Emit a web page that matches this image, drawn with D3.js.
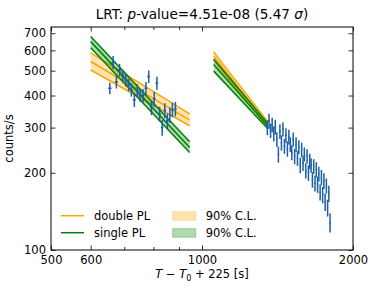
<!DOCTYPE html>
<html>
<head>
<meta charset="utf-8">
<script src="https://cdn.jsdelivr.net/npm/d3@7"></script>
<style>
  body { margin: 0; background: #fff; }
  text { font-family: "DejaVu Sans", sans-serif; fill: #000; }
</style>
</head>
<body>
<div class="chart"></div>
<script>
// Light curve bins (time since T0 + 225 s), count rates and 1-sigma errors
var times1 = [655, 665, 675, 685, 695, 705, 714, 723, 733, 743, 753, 763,
  773, 783, 793, 803, 813, 823, 833, 843, 853, 863, 873, 885];
var rates1 = [427, 538, 452, 504, 477, 460, 440, 421, 385, 418, 402, 400,
  427, 474, 360, 388, 447, 339, 300, 350, 318, 336, 352, 355];
var errs1 = [22, 32, 26, 28, 27, 26, 25, 25, 24, 25, 24, 24,
  25, 27, 24, 25, 26, 23, 21, 23, 22, 23, 23, 23];

var times2 = [1350, 1360, 1370, 1380, 1390, 1400, 1410, 1420, 1430, 1440, 1450, 1460,
  1470, 1480, 1490, 1500, 1510, 1520, 1530, 1540, 1550, 1560, 1570, 1580,
  1590, 1600, 1610, 1620, 1630, 1640, 1650, 1660, 1670, 1680, 1690, 1700,
  1710, 1720, 1730, 1740, 1750, 1760, 1770, 1780, 1790, 1800];
var rates2 = [300, 318, 292, 308, 284, 302, 270, 236, 290, 262, 296, 254,
  280, 248, 276, 258, 240, 270, 232, 258, 228, 252, 214, 246,
  218, 236, 204, 232, 200, 222, 214, 188, 212, 182, 206, 180,
  198, 168, 192, 164, 186, 154, 178, 146, 166, 128];
var errs2 = [20, 22, 19, 20, 19, 20, 18, 17, 19, 18, 19, 17,
  18, 17, 18, 17, 16, 17, 16, 17, 15, 16, 15, 16,
  15, 15, 14, 15, 14, 15, 14, 13, 14, 13, 14, 13,
  13, 12, 13, 12, 13, 12, 12, 11, 12, 11];

// Model segments: [start, end] time and rate at those times
var segTimes = [[600, 945], [1055, 1350]];
var doubleMid = [[543, 321], [570, 310]];
var doubleHi = [[587, 339], [592, 318]];
var doubleLo = [[503, 305], [550, 302]];
var singleMid = [[649, 251], [528, 306]];
var singleHi = [[679, 264], [555, 313]];
var singleLo = [[614, 240], [498, 298]];

var xMajor = [500, 600, 1000, 2000];
var xMinor = [700, 800, 900];
var yTicks = [100, 200, 300, 400, 500, 600, 700];

// Set up chart
var svgWidth = 374;
var svgHeight = 293;
var margin = { top: 27, right: 21, bottom: 43, left: 51 };
var width = svgWidth - margin.left - margin.right;
var height = svgHeight - margin.top - margin.bottom;

var svg = d3.select(".chart")
  .append("svg")
  .attr("width", svgWidth)
  .attr("height", svgHeight);

var chartGroup = svg.append("g")
  .attr("transform", `translate(${margin.left}, ${margin.top})`);

var x = d3.scaleLog().domain([500, 2000]).range([0, width]);
var y = d3.scaleLog().domain([100, 740]).range([height, 0]);

var orange = "#ffa500";
var green = "#008000";
var blue = "#1c5fa8";

// Model bands and lines (double PL first, single PL on top)
function drawModel(mid, hi, lo, color) {
  segTimes.forEach((ts, i) => {
    var band = [0, 1].map(k => ({ t: ts[k], hi: hi[i][k], lo: lo[i][k] }));
    chartGroup.append("path")
      .datum(band)
      .attr("d", d3.area().x(d => x(d.t)).y0(d => y(d.lo)).y1(d => y(d.hi)))
      .attr("fill", color)
      .attr("fill-opacity", 0.3);
    [hi, mid, lo].forEach(arr => {
      chartGroup.append("path")
        .datum([0, 1].map(k => ({ t: ts[k], v: arr[i][k] })))
        .attr("d", d3.line().x(d => x(d.t)).y(d => y(d.v)))
        .attr("fill", "none")
        .attr("stroke", color)
        .attr("stroke-width", 1.5);
    });
  });
}
drawModel(doubleMid, doubleHi, doubleLo, orange);
drawModel(singleMid, singleHi, singleLo, green);

// Data points with error bars
function drawPoints(ts, rs, es) {
  var g = chartGroup.append("g")
    .attr("stroke", blue)
    .attr("stroke-width", 1.5);
  ts.forEach((t, i) => {
    g.append("line")
      .attr("x1", x(t)).attr("x2", x(t))
      .attr("y1", y(rs[i] - es[i])).attr("y2", y(rs[i] + es[i]));
    g.append("line")
      .attr("x1", x(t - 5)).attr("x2", x(t + 5))
      .attr("y1", y(rs[i])).attr("y2", y(rs[i]));
  });
}
drawPoints(times1, rates1, errs1);
drawPoints(times2, rates2, errs2);

// Axes (inward ticks on all sides)
function styleAxis(g) {
  g.select(".domain").remove();
  g.selectAll("text").style("font-size", "11.5px").style("font-family", "DejaVu Sans");
  g.selectAll("line").attr("stroke", "#000").attr("stroke-width", 0.8);
}

chartGroup.append("g")
  .attr("transform", `translate(0, ${height})`)
  .call(d3.axisBottom(x).tickValues(xMajor).tickFormat(d3.format("d")).tickSize(-4.5).tickPadding(6))
  .call(styleAxis);
chartGroup.append("g")
  .attr("transform", `translate(0, ${height})`)
  .call(d3.axisBottom(x).tickValues(xMinor).tickFormat("").tickSize(-3))
  .call(styleAxis);
chartGroup.append("g")
  .call(d3.axisTop(x).tickValues(xMajor).tickFormat("").tickSize(-4.5))
  .call(styleAxis);
chartGroup.append("g")
  .call(d3.axisTop(x).tickValues(xMinor).tickFormat("").tickSize(-3))
  .call(styleAxis);

chartGroup.append("g")
  .call(d3.axisLeft(y).tickValues(yTicks).tickFormat(d3.format("d")).tickSize(-4.5).tickPadding(5))
  .call(styleAxis);
chartGroup.append("g")
  .attr("transform", `translate(${width}, 0)`)
  .call(d3.axisRight(y).tickValues(yTicks).tickFormat("").tickSize(-4.5))
  .call(styleAxis);

// Frame
chartGroup.append("rect")
  .attr("width", width)
  .attr("height", height)
  .attr("fill", "none")
  .attr("stroke", "#000")
  .attr("stroke-width", 1);

// Title
var title = svg.append("text")
  .attr("x", margin.left + width / 2)
  .attr("y", 18.5)
  .attr("text-anchor", "middle")
  .style("font-size", "13.6px");
title.append("tspan").text("LRT: ");
title.append("tspan").attr("font-style", "italic").text("p");
title.append("tspan").text("-value=4.51e-08 (5.47 ");
title.append("tspan").attr("font-style", "italic").text("σ");
title.append("tspan").text(")");

// Axis labels
var xLabel = svg.append("text")
  .attr("x", margin.left + width / 2)
  .attr("y", 278)
  .attr("text-anchor", "middle")
  .style("font-size", "11.5px");
xLabel.append("tspan").attr("font-style", "italic").text("T");
xLabel.append("tspan").text(" − ");
xLabel.append("tspan").attr("font-style", "italic").text("T");
xLabel.append("tspan").attr("dy", 3).style("font-size", "8px").text("0");
xLabel.append("tspan").attr("dy", -3).text(" + 225 [s]");

svg.append("text")
  .attr("transform", `translate(13, ${margin.top + height / 2}) rotate(-90)`)
  .attr("text-anchor", "middle")
  .style("font-size", "11.5px")
  .text("counts/s");

// Legend
var legend = svg.append("g").style("font-size", "11.5px");
[["double PL", orange, 215.7], ["single PL", green, 232.7]].forEach(d => {
  legend.append("line")
    .attr("x1", 61).attr("x2", 84)
    .attr("y1", d[2]).attr("y2", d[2])
    .attr("stroke", d[1]).attr("stroke-width", 1.5);
  legend.append("text").attr("x", 94).attr("y", d[2] + 4).text(d[0]);
  legend.append("rect")
    .attr("x", 172.7).attr("y", d[2] - 4)
    .attr("width", 23).attr("height", 8.5)
    .attr("fill", d[1]).attr("fill-opacity", 0.3)
    .attr("stroke", d[1]).attr("stroke-opacity", 0.3);
  legend.append("text").attr("x", 205.7).attr("y", d[2] + 4).text("90% C.L.");
});
</script>
</body>
</html>
